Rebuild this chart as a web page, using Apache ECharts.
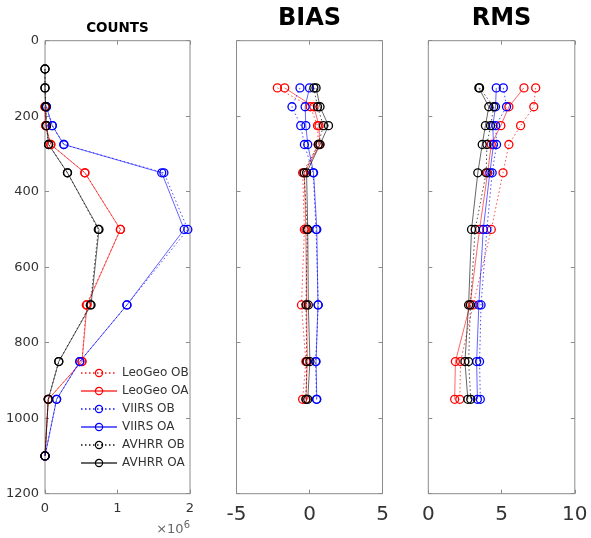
<!DOCTYPE html>
<html>
<head>
<meta charset="utf-8">
<script src="https://cdn.jsdelivr.net/npm/echarts@6/dist/echarts.min.js"></script>
<style>
  html, body { margin: 0; padding: 0; background: #fff; }
  #chart { width: 591px; height: 538px; }
</style>
</head>
<body>
<div id="chart"></div>
<script>
// Pressure levels (hPa)
const countLevels = [75, 125, 175, 225, 275, 350, 500, 700, 850, 950, 1100];
const statLevels = [125, 175, 225, 275, 350, 500, 700, 850, 950];

// Observation counts per level
const countLevelsLeoGeo = [175, 225, 275, 350, 500, 700, 850, 950, 1100];
const countsLeoGeoOB = [0, 10000, 80000, 550000, 1040000, 570000, 510000, 45000, 0];
const countsLeoGeoOA = [0, 10000, 80000, 550000, 1040000, 580000, 510000, 45000, 0];
const countLevelsVIIRS = [175, 225, 275, 350, 500, 700, 850, 950, 1100];
const countsVIIRSOB = [20000, 100000, 260000, 1640000, 1970000, 1130000, 480000, 160000, 0];
const countsVIIRSOA = [20000, 100000, 260000, 1610000, 1920000, 1130000, 480000, 160000, 0];
const countsAVHRROB = [0, 0, 10000, 20000, 50000, 310000, 735000, 625000, 190000, 45000, 0];
const countsAVHRROA = [0, 0, 10000, 20000, 50000, 310000, 745000, 635000, 190000, 45000, 0];

// Bias per level
const biasLeoGeoOB = [-2.2, 0.05, 0.55, 0.6, -0.47, -0.35, -0.55, -0.25, -0.47];
const biasLeoGeoOA = [-1.7, 0.3, 0.65, 0.7, -0.35, -0.25, -0.2, -0.15, -0.25];
const biasVIIRSOB = [-0.65, -1.2, -0.6, -0.35, 0.25, 0.45, 0.6, 0.42, 0.48];
const biasVIIRSOA = [0.0, -0.3, -0.25, -0.12, 0.28, 0.5, 0.58, 0.45, 0.5];
const biasAVHRROB = [0.3, 0.55, 0.95, 0.6, -0.38, -0.15, -0.24, -0.19, -0.24];
const biasAVHRROA = [0.45, 0.72, 1.3, 0.72, -0.2, -0.12, -0.08, 0.03, -0.12];

// RMS per level
const rmsLeoGeoOB = [7.33, 7.2, 6.3, 5.5, 5.1, 4.3, 3.06, 2.2, 2.15];
const rmsLeoGeoOA = [6.53, 5.5, 4.95, 4.3, 4.05, 3.5, 2.85, 1.85, 1.8];
const rmsVIIRSOB = [5.12, 5.34, 4.6, 4.66, 4.36, 4.0, 3.6, 3.5, 3.55];
const rmsVIIRSOA = [4.64, 4.59, 4.4, 4.45, 4.2, 3.75, 3.45, 3.3, 3.35];
const rmsAVHRROB = [3.5, 4.47, 4.25, 4.0, 3.95, 3.2, 2.88, 2.75, 2.9];
const rmsAVHRROA = [3.45, 4.13, 3.9, 3.68, 3.38, 2.95, 2.75, 2.5, 2.7];

const yTicks = [0, 200, 400, 600, 800, 1000, 1200];

const seriesNames = ['LeoGeo OB', 'LeoGeo OA', 'VIIRS OB', 'VIIRS OA', 'AVHRR OB', 'AVHRR OA'];
const seriesColors = ['#ff0000', '#ff0000', '#0000ff', '#0000ff', '#000000', '#000000'];
const dotted = [1.5, 2.5];

const FONT = 'DejaVu Sans';
const AXIS_GREY = '#8c8c8c';
const TEXT = '#333333';
const HOLLOW = 'rgba(255,255,255,0)';

const grids = [
  { left: 45, top: 40.7, width: 145, height: 453 },
  { left: 236.5, top: 40.7, width: 146, height: 453 },
  { left: 428.3, top: 40.7, width: 146.5, height: 453 }
];

const xRanges = [
  { min: 0, max: 2000000, interval: 1000000, fmt: v => String(v / 1000000), size: 13, margin: 8 },
  { min: -5, max: 5, interval: 5, fmt: v => String(v), size: 20, margin: 11 },
  { min: 0, max: 10, interval: 5, fmt: v => String(v), size: 20, margin: 11 }
];

const tickStyle = { show: true, inside: true, length: 4, lineStyle: { color: AXIS_GREY } };

const xAxis = [];
const yAxis = [];
grids.forEach((g, i) => {
  const r = xRanges[i];
  ['bottom', 'top'].forEach(pos => {
    xAxis.push({
      type: 'value', gridIndex: i, position: pos,
      min: r.min, max: r.max, interval: r.interval,
      axisLine: { show: false, onZero: false },
      axisTick: tickStyle,
      axisLabel: pos === 'bottom'
        ? { show: true, formatter: r.fmt, color: TEXT, fontFamily: FONT, fontSize: r.size, margin: r.margin }
        : { show: false },
      splitLine: { show: false }
    });
  });
  ['left', 'right'].forEach(pos => {
    yAxis.push({
      type: 'value', gridIndex: i, position: pos, inverse: true,
      min: yTicks[0], max: yTicks[yTicks.length - 1], interval: 200,
      axisLine: { show: false, onZero: false },
      axisTick: tickStyle,
      axisLabel: {
        show: i === 0 && pos === 'left', formatter: v => String(v),
        color: TEXT, fontFamily: FONT, fontSize: 13, margin: 6
      },
      splitLine: { show: false }
    });
  });
});

function pairs(xs, levels) {
  return xs.map((v, k) => [v, levels[k]]);
}

// Hollow circle markers joined by thin lines: dotted for OB, solid for OA
function makeSeries(k, gridIdx, data) {
  const isOB = k % 2 === 0;
  return {
    name: seriesNames[k],
    type: 'line',
    xAxisIndex: gridIdx * 2,
    yAxisIndex: gridIdx * 2,
    data: data,
    symbol: 'circle',
    symbolSize: 8,
    showSymbol: true,
    itemStyle: { color: HOLLOW, borderColor: seriesColors[k], borderWidth: 1.3 },
    lineStyle: { color: seriesColors[k], width: 1, type: isOB ? dotted : 'solid', opacity: isOB ? 0.7 : 0.6 },
    emphasis: { disabled: true },
    animation: false
  };
}

const countsData = [
  pairs(countsLeoGeoOB, countLevelsLeoGeo),
  pairs(countsLeoGeoOA, countLevelsLeoGeo),
  pairs(countsVIIRSOB, countLevelsVIIRS),
  pairs(countsVIIRSOA, countLevelsVIIRS),
  pairs(countsAVHRROB, countLevels),
  pairs(countsAVHRROA, countLevels)
];
const biasData = [biasLeoGeoOB, biasLeoGeoOA, biasVIIRSOB, biasVIIRSOA, biasAVHRROB, biasAVHRROA]
  .map(a => pairs(a, statLevels));
const rmsData = [rmsLeoGeoOB, rmsLeoGeoOA, rmsVIIRSOB, rmsVIIRSOA, rmsAVHRROB, rmsAVHRROA]
  .map(a => pairs(a, statLevels));

const series = [];
[countsData, biasData, rmsData].forEach((set, g) => {
  set.forEach((d, k) => series.push(makeSeries(k, g, d)));
});

const panelTitles = [
  { text: 'COUNTS', size: 13.5, y: 28.8 },
  { text: 'BIAS', size: 24, y: 18.6 },
  { text: 'RMS', size: 24, y: 18.6 }
];

const graphic = panelTitles.map((t, i) => ({
  type: 'text',
  x: grids[i].left + grids[i].width / 2,
  y: t.y,
  style: {
    text: t.text, fill: '#000', font: 'bold ' + t.size + 'px "' + FONT + '"',
    textAlign: 'center', textVerticalAlign: 'middle'
  }
}));
graphic.push({
  type: 'text',
  x: 190, y: 530,
  style: {
    text: '×10{sup|6}',
    fill: '#666', font: '13px "' + FONT + '"',
    textAlign: 'right', textVerticalAlign: 'middle',
    rich: { sup: { fontSize: 10, fontFamily: FONT, fill: '#666', verticalAlign: 'bottom', padding: [0, 0, 10, 0] } }
  }
});

const chart = echarts.init(document.getElementById('chart'), null, { renderer: 'canvas' });
chart.setOption({
  backgroundColor: '#ffffff',
  animation: false,
  grid: grids.map(g => Object.assign({ show: true, borderColor: AXIS_GREY, borderWidth: 1, backgroundColor: 'transparent' }, g)),
  xAxis: xAxis,
  yAxis: yAxis,
  legend: {
    data: seriesNames,
    orient: 'vertical',
    left: 75,
    top: 362,
    itemWidth: 36,
    itemHeight: 9,
    itemGap: 6,
    selectedMode: false,
    itemStyle: { color: HOLLOW, borderWidth: 1.2 },
    textStyle: { color: TEXT, fontFamily: FONT, fontSize: 12 }
  },
  graphic: graphic,
  series: series
});
</script>
</body>
</html>
